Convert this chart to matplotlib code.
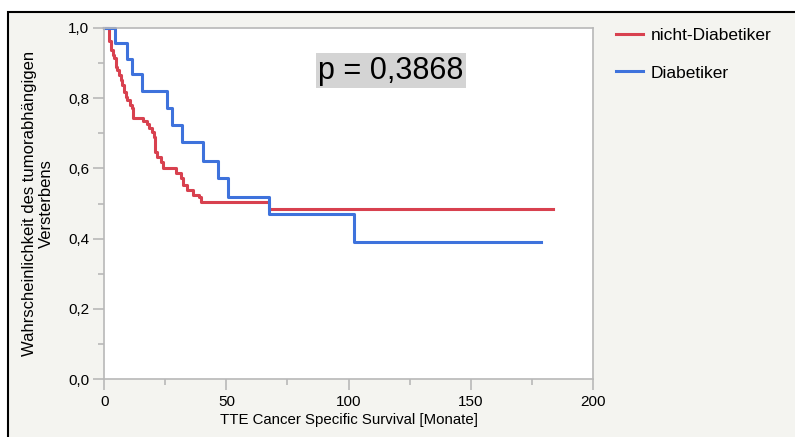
import matplotlib.pyplot as plt
from matplotlib.patches import Rectangle

plt.rcParams['font.family'] = ['Liberation Sans', 'DejaVu Sans']

# Kaplan-Meier Schaetzungen
t_nicht = [0, 1.9, 2.7, 3.4, 4.0, 4.7, 5.3, 6.0, 6.7, 7.4, 8.1, 8.8, 9.4, 10.5, 11.2, 11.9,
           16.0, 17.5, 18.4, 19.4, 20.3, 20.7, 21.5, 23.3, 23.9, 29.4, 31.3, 32.1, 33.7,
           36.4, 38.9, 39.5, 67.4, 183.6]
s_nicht = [1.0, 0.962, 0.937, 0.922, 0.913, 0.889, 0.880, 0.865, 0.851, 0.837, 0.818, 0.804,
           0.794, 0.780, 0.771, 0.744, 0.735, 0.725, 0.716, 0.704, 0.690, 0.647, 0.633, 0.619,
           0.600, 0.586, 0.572, 0.553, 0.539, 0.524, 0.519, 0.505, 0.485, 0.485]

t_diab = [0, 4.4, 9.4, 11.5, 15.3, 25.5, 27.6, 31.7, 40.5, 46.7, 50.5, 67.4, 102.4, 178.7]
s_diab = [1.0, 0.957, 0.911, 0.867, 0.821, 0.772, 0.723, 0.676, 0.622, 0.572, 0.519, 0.469,
          0.390, 0.390]

labels = ['nicht-Diabetiker', 'Diabetiker']
colors = ['#d8414f', '#3e72dc']

x_ticks = [0, 50, 100, 150, 200]
y_ticks = [0.0, 0.2, 0.4, 0.6, 0.8, 1.0]
y_ticklabels = ['0,0', '0,2', '0,4', '0,6', '0,8', '1,0']
p_text = 'p = 0,3868'

fig = plt.figure(figsize=(7.95, 4.37), dpi=100, facecolor='white')
bg = Rectangle((8 / 795, -0.01), 1.0, (437 - 12) / 437 + 0.01, transform=fig.transFigure,
               facecolor='#f4f4f0', edgecolor='black', linewidth=1.5, zorder=-10)
fig.patches.append(bg)

ax = fig.add_axes([104.3 / 795, (437 - 379.3) / 437, (592.7 - 104.3) / 795, (379.3 - 27.7) / 437])
ax.set_facecolor('white')

ax.step(t_nicht, s_nicht, where='post', color=colors[0], lw=2.2, label=labels[0], clip_on=False)
ax.step(t_diab, s_diab, where='post', color=colors[1], lw=2.2, label=labels[1], clip_on=False)

ax.set_xlim(0, 200)
ax.set_ylim(0, 1)
ax.set_xticks(x_ticks)
ax.set_xticks([25, 75, 125, 175], minor=True)
ax.set_yticks(y_ticks)
ax.set_yticklabels(y_ticklabels)
ax.set_yticks([0.1, 0.3, 0.5, 0.7, 0.9], minor=True)

for sp in ax.spines.values():
    sp.set_color('#b8b8b8')
    sp.set_linewidth(1.2)
ax.tick_params(which='major', length=8, color='#b8b8b8', width=1.2, labelsize=11, pad=3)
ax.tick_params(which='minor', length=4, color='#b8b8b8', width=1.2)

ax.set_xlabel('TTE Cancer Specific Survival [Monate]', fontsize=10.8, labelpad=3)
ax.set_ylabel('Wahrscheinlichkeit des tumorabhängigen\nVersterbens', fontsize=12,
              labelpad=10, linespacing=1.15)

ax.text(117.4, 0.878, p_text, fontsize=22, ha='center', va='center',
        bbox=dict(facecolor='#d4d4d4', edgecolor='none', pad=1.5))

fig.legend(loc='upper left', bbox_to_anchor=(600 / 795, 1 - 12 / 437), frameon=False,
           fontsize=12.5, handlelength=1.6, handletextpad=0.4, labelspacing=1.3)

fig.savefig('out.png', dpi=100)
